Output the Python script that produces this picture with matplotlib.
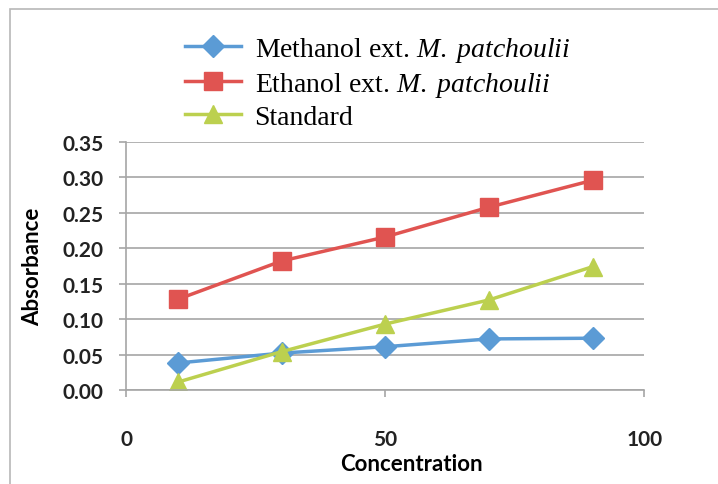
import matplotlib
matplotlib.use('Agg')
import matplotlib.pyplot as plt
from matplotlib.patches import Rectangle

# data
concentration = [10, 30, 50, 70, 90]
methanol = [0.038, 0.052, 0.061, 0.072, 0.073]
ethanol = [0.128, 0.182, 0.216, 0.258, 0.296]
standard = [0.011, 0.054, 0.093, 0.127, 0.174]

labels = [r'Methanol ext. $\mathit{M.\ patchoulii}$',
          r'Ethanol ext. $\mathit{M.\ patchoulii}$',
          'Standard']
x_ticks = [0, 50, 100]
y_ticks = [0.00, 0.05, 0.10, 0.15, 0.20, 0.25, 0.30, 0.35]

plt.rcParams['mathtext.fontset'] = 'custom'
plt.rcParams['mathtext.rm'] = 'Liberation Serif'
plt.rcParams['mathtext.it'] = 'Liberation Serif:italic'

fig = plt.figure(figsize=(7.18, 4.85), dpi=100)
ax = fig.add_axes([0.1755, 0.194, 0.722, 0.511])

# outer chart frame
fig.patches.append(Rectangle((10 / 718, -0.01), 1.0, 1 - 10 / 485 + 0.01,
                             transform=fig.transFigure, fill=False,
                             edgecolor='#b8b8b8', linewidth=1.2))

ax.plot(concentration, methanol, color='#5b9bd5', linewidth=2.5,
        marker='D', markersize=11, label=labels[0])
ax.plot(concentration, ethanol, color='#e05451', linewidth=2.5,
        marker='s', markersize=13, label=labels[1])
ax.plot(concentration, standard, color='#bcd04f', linewidth=2.5,
        marker='^', markersize=13, label=labels[2])

ax.set_xlim(0, 100)
ax.set_ylim(0, 0.35)
ax.set_xticks(x_ticks)
ax.set_yticks(y_ticks)
ax.set_yticklabels(['%.2f' % v for v in y_ticks])
ax.grid(axis='y', color='#a6a6a6', linewidth=1.2)
ax.set_axisbelow(True)

for s in ['top', 'right']:
    ax.spines[s].set_visible(False)
for s in ['left', 'bottom']:
    ax.spines[s].set_color('#a6a6a6')
    ax.spines[s].set_linewidth(1.2)

ax.tick_params(axis='y', length=5, color='#a6a6a6', width=1.2, pad=11,
               labelsize=15, labelcolor='#222222')
ax.tick_params(axis='x', length=5, color='#a6a6a6', width=1.2, pad=23,
               labelsize=15, labelcolor='#222222')
for t in ax.get_xticklabels() + ax.get_yticklabels():
    t.set_fontfamily('Lato')
    t.set_fontweight('bold')

ax.set_xlabel('Concentration', fontfamily='Lato', fontweight='bold',
              fontsize=16, labelpad=-2)
ax.xaxis.set_label_coords(0.55, -0.255)
ax.set_ylabel('Absorbance', fontfamily='Lato', fontweight='bold',
              fontsize=16, labelpad=14)

fig.legend(loc='upper left', bbox_to_anchor=(174 / 718, 1 - 25 / 485),
           frameon=False, prop=dict(family='Liberation Serif', size=20),
           handlelength=2.0, labelspacing=0.2, handletextpad=0.5,
           borderaxespad=0)

fig.savefig('out.png', dpi=100)
